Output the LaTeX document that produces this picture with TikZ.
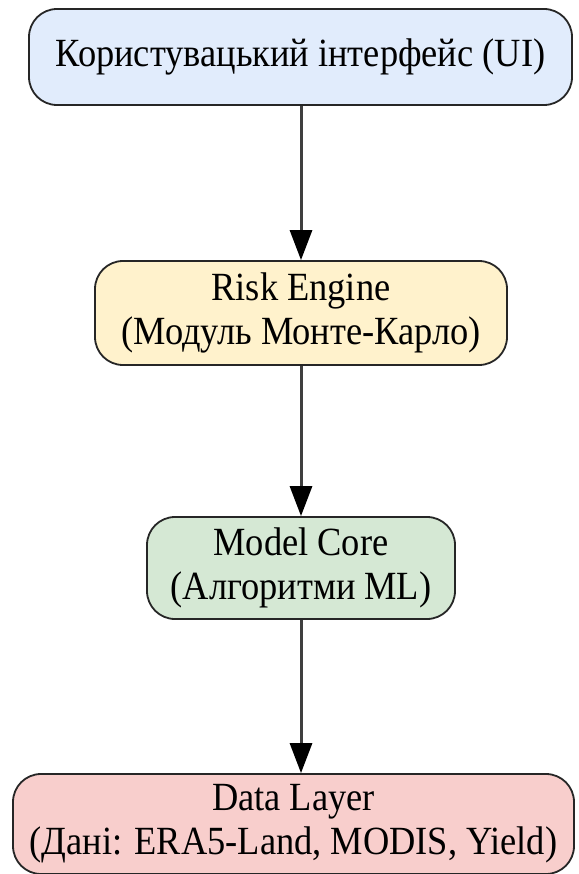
\documentclass[tikz,border=0pt]{standalone}
\usepackage{fontspec}
\setmainfont{Liberation Serif}[FakeStretch=0.91]
\usetikzlibrary{arrows.meta}
\definecolor{uifill}{HTML}{E1ECFC}
\definecolor{riskfill}{HTML}{FFF2CC}
\definecolor{corefill}{HTML}{D5E8D4}
\definecolor{datafill}{HTML}{F8CECC}
\definecolor{edgegray}{HTML}{3F3F3F}
\tikzset{
  layer/.style={draw=black!85, line width=1.8pt, rounded corners=28pt,
    align=center, inner sep=0pt,
    font=\fontsize{40}{44}\selectfont},
  flow/.style={draw=edgegray, line width=3pt,
    -{Triangle[length=30pt,width=22pt,color=black]}}
}
\begin{document}
\begin{tikzpicture}[x=1pt,y=-1pt]
  \useasboundingbox (0,0) rectangle (578,874);
  \node[layer, fill=uifill, minimum width=543pt, minimum height=96pt]
    (ui) at (300.5,57) {Користувацький інтерфейс (UI)};
  \node[layer, fill=riskfill, minimum width=412pt, minimum height=104pt]
    (risk) at (301,313) {Risk Engine\\(Модуль Монте-Карло)};
  \node[layer, fill=corefill, minimum width=308pt, minimum height=102pt]
    (core) at (301,568) {Model Core\\(Алгоритми ML)};
  \node[layer, fill=datafill, minimum width=561pt, minimum height=100pt]
    (data) at (293.5,824) {Data Layer\\(Дані: ERA5-Land, MODIS, Yield)};
  \draw[flow] (ui.south -| risk.north) -- (risk.north);
  \draw[flow] (risk) -- (core);
  \draw[flow] (core.south) -- (core.south |- data.north);
\end{tikzpicture}
\end{document}
